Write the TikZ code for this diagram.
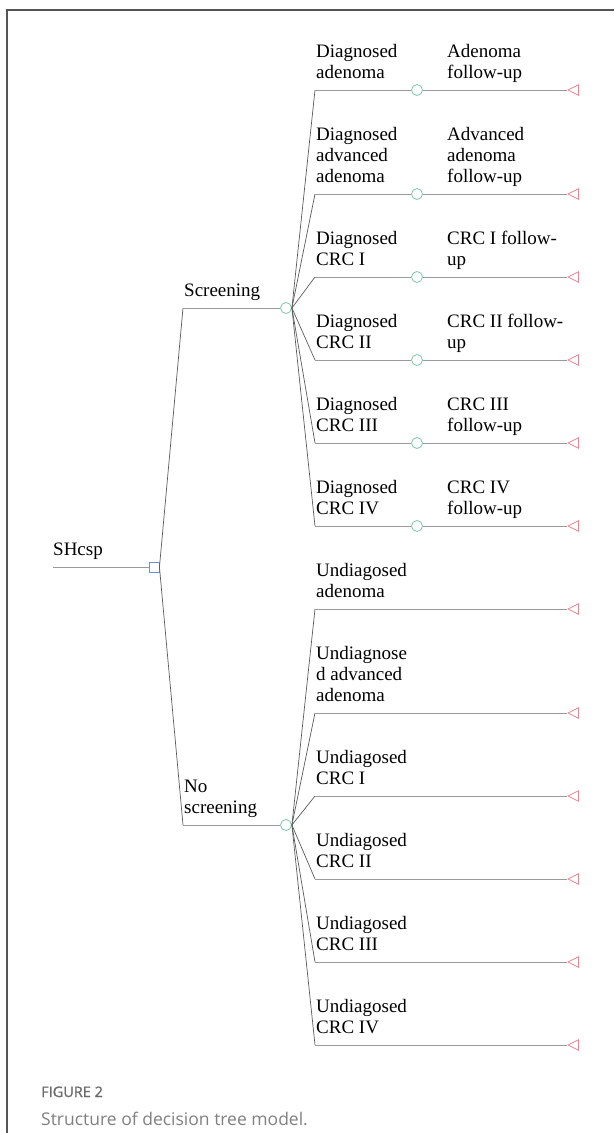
\documentclass[tikz,border=0pt]{standalone}
\usepackage{fontspec}
\setmainfont{Liberation Serif}
\newfontfamily\capfont{Open Sans}
\newfontfamily\capheadfont[FakeBold=1.2]{Open Sans}
\usetikzlibrary{shapes.geometric}
\definecolor{framec}{HTML}{555555}
\definecolor{linec}{HTML}{9A9A9A}
\definecolor{slantc}{HTML}{5A5A5A}
\definecolor{chancec}{HTML}{7CC9A6}
\definecolor{decc}{HTML}{6E90D6}
\definecolor{termc}{HTML}{EC8593}
\definecolor{capc}{HTML}{6A6A6A}
\begin{document}
\begin{tikzpicture}[x=1pt,y=-1pt,
 lbl/.style={font=\fontsize{19}{21}\selectfont, align=left, inner sep=0, anchor=south west},
 hline/.style={draw=linec, line width=0.9pt},
 sline/.style={draw=slantc, line width=0.7pt},
 chance/.style={circle, draw=chancec, fill=white, line width=0.8pt, minimum size=11pt, inner sep=0},
 decision/.style={rectangle, draw=decc, fill=white, line width=0.9pt, minimum size=10pt, inner sep=0},
 terminal/.style={isosceles triangle, isosceles triangle stretches, shape border rotate=180, draw=termc, line width=0.8pt, minimum width=10.5pt, minimum height=10.5pt, inner sep=0, anchor=apex},
 caphead/.style={font=\capheadfont\fontsize{14.5}{17}\selectfont, text=capc, inner sep=0, anchor=base west},
 captext/.style={font=\capfont\fontsize{17.5}{21}\selectfont, text=capc!85, inner sep=0, anchor=base west},
]
\useasboundingbox (0,0) rectangle (614,1133);
\draw[framec, line width=1.2pt] (7,1133) -- (7,10) -- (614,10);

% root and decision
\coordinate (root) at (53,567);
\node[decision] (dec) at (154,567) {};
\draw[hline] (root) -- (dec);
\node[lbl] (lroot) at (53,561.5) {SHcsp\strut};

% strategy chance nodes
\coordinate (sa) at (183,308);
\coordinate (nsa) at (183,825);
\node[chance] (s) at (286,308) {};
\node[chance] (ns) at (286,825) {};
\draw[sline] (dec.east) -- (sa);
\draw[sline] (dec.east) -- (nsa);
\draw[hline] (sa) -- (s);
\draw[hline] (nsa) -- (ns);
\node[lbl] (ls) at (184,302.5) {Screening\strut};
\node[lbl] (lns) at (184,819.5) {No\\screening\strut};

% diagnosed branches
\foreach \i/\y in {1/90,2/194,3/277,4/360,5/443,6/526}{
  \coordinate (b\i) at (315,\y);
  \node[chance] (c\i) at (417,\y) {};
  \node[terminal] (t\i) at (567,\y) {};
  \draw[sline] (s.east) -- (b\i);
  \draw[hline] (b\i) -- (c\i);
  \draw[hline] (c\i) -- (t\i.apex);
}
\node[lbl] (ld1) at (316,84.5) {Diagnosed\\adenoma\strut};
\node[lbl] (lf1) at (447,84.5) {Adenoma\\follow-up\strut};
\node[lbl] (ld2) at (316,188.5) {Diagnosed\\advanced\\adenoma\strut};
\node[lbl] (lf2) at (447,188.5) {Advanced\\adenoma\\follow-up\strut};
\node[lbl] (ld3) at (316,271.5) {Diagnosed\\CRC I\strut};
\node[lbl] (lf3) at (447,271.5) {CRC I follow-\\up\strut};
\node[lbl] (ld4) at (316,354.5) {Diagnosed\\CRC II\strut};
\node[lbl] (lf4) at (447,354.5) {CRC II follow-\\up\strut};
\node[lbl] (ld5) at (316,437.5) {Diagnosed\\CRC III\strut};
\node[lbl] (lf5) at (447,437.5) {CRC III\\follow-up\strut};
\node[lbl] (ld6) at (316,520.5) {Diagnosed\\CRC IV\strut};
\node[lbl] (lf6) at (447,520.5) {CRC IV\\follow-up\strut};

% undiagnosed branches
\foreach \i/\y in {1/609,2/713,3/796,4/879,5/962,6/1045}{
  \coordinate (u\i) at (315,\y);
  \node[terminal] (tu\i) at (567,\y) {};
  \draw[sline] (ns.east) -- (u\i);
  \draw[hline] (u\i) -- (tu\i.apex);
}
\node[lbl] (lu1) at (316,603.5) {Undiagosed\\adenoma\strut};
\node[lbl] (lu2) at (316,707.5) {Undiagnose\\d advanced\\adenoma\strut};
\node[lbl] (lu3) at (316,790.5) {Undiagosed\\CRC I\strut};
\node[lbl] (lu4) at (316,873.5) {Undiagosed\\CRC II\strut};
\node[lbl] (lu5) at (316,956.5) {Undiagosed\\CRC III\strut};
\node[lbl] (lu6) at (316,1039.5) {Undiagosed\\CRC IV\strut};

% caption
\node[caphead] (fig) at (41,1097) {FIGURE 2};
\node[captext] (cap) at (41,1125) {Structure of decision tree model.};
\end{tikzpicture}
\end{document}
